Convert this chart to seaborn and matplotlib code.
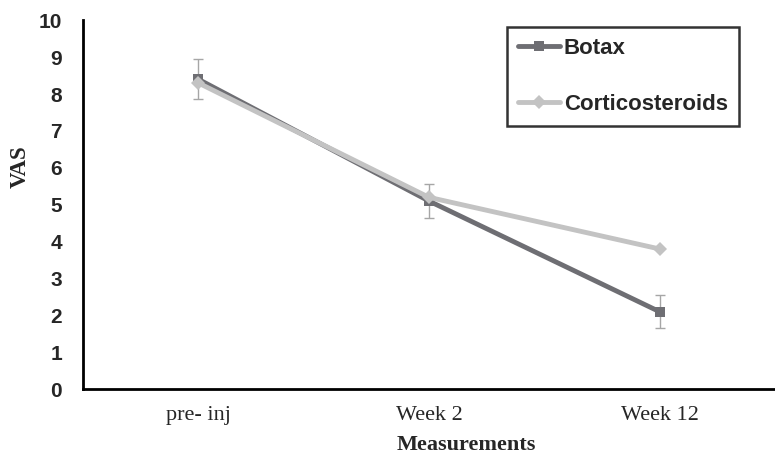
import pandas as pd
import matplotlib
matplotlib.use("Agg")
import matplotlib.pyplot as plt
import seaborn as sns

# ---------------- data ----------------
measurements = ["pre- inj", "Week 2", "Week 12"]
botax = [8.4, 5.1, 2.1]
corticosteroids = [8.3, 5.2, 3.8]
botax_err = [0.54, 0.47, 0.44]

df = pd.DataFrame({
    "Measurements": measurements * 2,
    "VAS": botax + corticosteroids,
    "Group": ["Botax"] * 3 + ["Corticosteroids"] * 3,
})

sns.set_style("white")
plt.rcParams["font.family"] = ["Liberation Sans", "DejaVu Sans"]

fig = plt.figure(figsize=(7.75, 4.59), dpi=100)
ax = fig.add_axes([0.107, 0.152, 0.893, 0.804])

# error bars (Botax)
ax.errorbar(measurements, botax, yerr=botax_err, fmt="none",
            ecolor="#a6a6a6", elinewidth=1.0, capsize=3.5, capthick=1.0, zorder=1)

palette = {"Botax": "#6e6e73", "Corticosteroids": "#c3c3c3"}
sns.lineplot(data=df, x="Measurements", y="VAS", hue="Group", style="Group",
             markers={"Botax": "s", "Corticosteroids": "D"},
             dashes=False, palette=palette, linewidth=3.5, markersize=7.5,
             markeredgewidth=0, sort=False, ax=ax, zorder=2)

ax.set_ylim(0, 10)
ax.set_xlim(-0.5, 2.5)
ax.set_yticks(range(0, 11))
ax.set_yticklabels([str(v) for v in range(0, 11)], fontsize=15, fontweight="bold")

# category labels in middle, tick marks between categories
ax.set_xticks([0, 1, 2])
ax.set_xticklabels(measurements, family="Liberation Serif", fontsize=16)
ax.tick_params(axis="x", which="major", length=0, pad=12)
ax.set_xticks([-0.5, 0.5, 1.5, 2.5], minor=True)
ax.tick_params(axis="x", which="minor", length=5, width=1.5, direction="out", color="black")
ax.tick_params(axis="y", length=5, width=1.5, direction="out", color="black", pad=10)

for s in ["top", "right"]:
    ax.spines[s].set_visible(False)
for s in ["left", "bottom"]:
    ax.spines[s].set_color("black")
    ax.spines[s].set_linewidth(2)

ax.set_xlabel("Measurements", family="Liberation Serif", fontsize=16, fontweight="bold")
ax.set_ylabel("VAS", family="Liberation Serif", fontsize=16.5, fontweight="bold")
ax.xaxis.set_label_coords((466 - 83) / 692, (389 - 445) / 369, transform=ax.transAxes)
ax.yaxis.set_label_coords((20 - 83) / 692, (389 - 166) / 369, transform=ax.transAxes)
ax.xaxis.label.set_va("center")
ax.yaxis.label.set_va("center")

leg = ax.legend(title=None, loc="upper left",
                bbox_to_anchor=(507 / 775, 1 - 27 / 459), bbox_transform=fig.transFigure,
                borderaxespad=0,
                prop={"size": 16, "weight": "bold"}, frameon=True, fancybox=False,
                handlelength=1.9, labelspacing=1.55, borderpad=0.5, handletextpad=0.15)
leg.get_frame().set_edgecolor("black")
leg.get_frame().set_linewidth(1.8)

fig.savefig("out.png", dpi=100)
